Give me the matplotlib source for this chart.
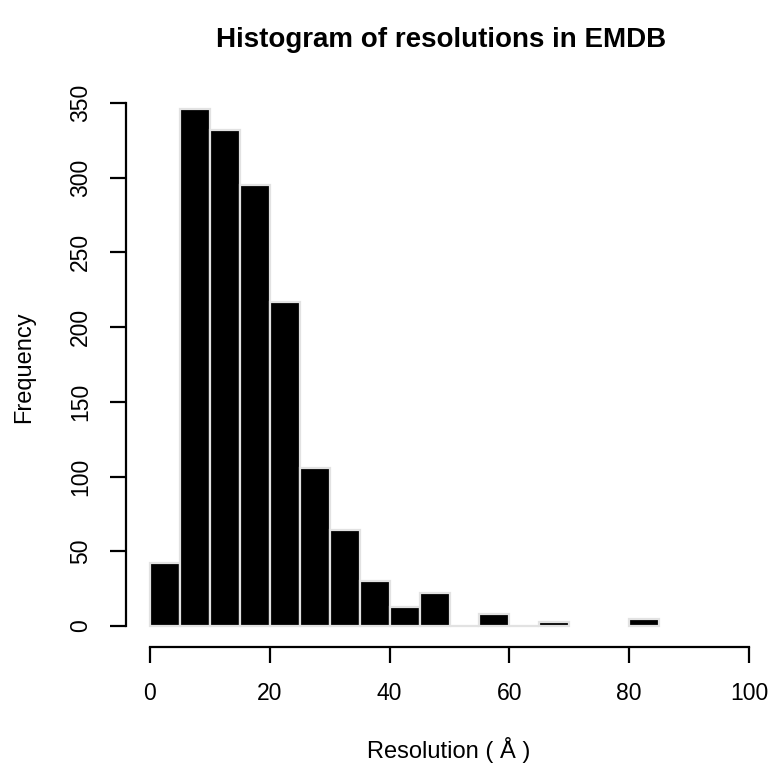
import matplotlib
matplotlib.use("Agg")
import matplotlib.pyplot as plt
import numpy as np

plt.rcParams['font.family'] = ['Liberation Sans', 'DejaVu Sans']

# histogram bins (left edge) and counts;
# no bars are drawn between 70 and 80
bin_left = [0, 5, 10, 15, 20, 25, 30, 35, 40, 45, 50, 55, 60, 65, 80]
bin_width = 5
counts = [42, 346, 332, 295, 217, 106, 64, 30, 13, 22, 0, 8, 0, 3, 5]
x_ticks = [0, 20, 40, 60, 80, 100]
y_ticks = [0, 50, 100, 150, 200, 250, 300, 350]

W, H = 773, 766
fig = plt.figure(figsize=(W / 100, H / 100), dpi=100)
# plot region in pixels: left 126, right 773, top 82, bottom 647
ax = fig.add_axes([126 / W, (H - 647) / H, (773 - 126) / W, (647 - 82) / H])

ax.bar(bin_left, counts, width=bin_width, align='edge',
       color='black', edgecolor='#e2e2e2', linewidth=1.6)

ax.set_xlim(-4, 104)
ax.set_ylim(-14, 364)

for s in ['top', 'right']:
    ax.spines[s].set_visible(False)
ax.spines['bottom'].set_bounds(0, 100)
ax.spines['left'].set_bounds(0, 350)
ax.spines['bottom'].set_linewidth(1.6)
ax.spines['left'].set_linewidth(1.6)

ax.set_xticks(x_ticks)
ax.set_yticks(y_ticks)
ax.tick_params(axis='both', direction='out', length=11.5, width=1.6,
               labelsize=16.5)
ax.tick_params(axis='x', pad=14)
ax.tick_params(axis='y', pad=13)
for lab in ax.get_yticklabels():
    lab.set_rotation(90)
    lab.set_va('center')

fig.text(449 / W, 1 - 750 / H, 'Resolution ( Å )', ha='center', va='center',
         fontsize=17)
fig.text(24 / W, 1 - 367 / H, 'Frequency', ha='center', va='center',
         rotation=90, fontsize=17)
fig.text(441 / W, 1 - 40 / H, 'Histogram of resolutions in EMDB',
         ha='center', va='center', fontsize=20, fontweight='bold')

fig.savefig('out.png', dpi=100)
